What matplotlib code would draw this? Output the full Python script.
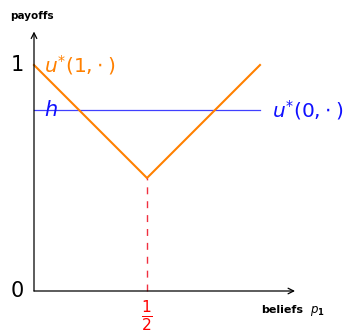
import matplotlib.pyplot as plt

# value of each action as a function of the belief p1
beliefs = [0.0, 0.5, 1.0]
u_one = [1.0, 0.5, 1.0]      # u*(1, .)
h_level = 0.8                # u*(0, .) is flat at h
kink_x = 0.5

plt.rcParams['mathtext.fontset'] = 'dejavusans'

W, H = 345, 334
ox, oy, unit = 34, 291, 226   # origin in pixels and pixels per unit

fig = plt.figure(figsize=(W / 100, H / 100), dpi=100)
ax = fig.add_axes([0, 0, 1, 1])
ax.set_xlim(-ox / unit, (W - ox) / unit)
ax.set_ylim(-(H - oy) / unit, oy / unit)
ax.axis("off")

# axes with arrow heads
arrow = dict(arrowstyle="->", color="black", lw=0.9, shrinkA=0, shrinkB=0)
ax.annotate("", xy=(1.155, 0), xytext=(0, 0), arrowprops=arrow)
ax.annotate("", xy=(0, 1.148), xytext=(0, 0), arrowprops=arrow)

ax.plot([beliefs[0], beliefs[-1]], [h_level, h_level], color="#4040ff", lw=0.9)
ax.plot(beliefs, u_one, color="#ff8000", lw=1.5, solid_joinstyle="miter")
ax.plot([kink_x, kink_x], [0, u_one[1]], color="#f03040", lw=1.0,
        ls=(0, (5, 5)))

ax.text(-0.045, 1.0, "1", fontsize=15, ha="right", va="center")
ax.text(-0.045, 0.0, "0", fontsize=15, ha="right", va="center")
ax.text(0.045, 1.0, r"$u^{*}(1,\!\cdot)$", fontsize=14.5, color="#ff8000",
        ha="left", va="center")
ax.text(1.053, h_level, r"$u^{*}(0,\!\cdot)$", fontsize=14.5, color="#1010ff",
        ha="left", va="center")
ax.text(0.045, h_level, r"$h$", fontsize=15, color="#1010ff",
        ha="left", va="center")
ax.text(kink_x, -0.11, r"$\frac{1}{2}$", fontsize=16, color="#ff0000",
        ha="center", va="center")
ax.text(-0.106, 1.218, "payoffs", fontsize=7.5, fontweight="bold",
        ha="left", va="center")
ax.text(1.005, -0.083, "beliefs", fontsize=8, fontweight="bold",
        ha="left", va="center")
ax.text(1.222, -0.088, r"$p_{\mathbf{1}}$", fontsize=8.5,
        ha="left", va="center")

fig.savefig("out.png", dpi=100)
